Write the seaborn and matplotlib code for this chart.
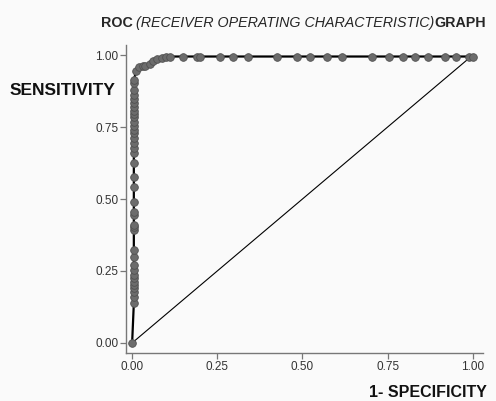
import matplotlib
matplotlib.use("Agg")
import matplotlib.pyplot as plt
import seaborn as sns
import pandas as pd

# ROC points: 1-specificity (fpr) and sensitivity (tpr)
vertical_tpr = [0.138, 0.161, 0.178, 0.190, 0.201, 0.213, 0.225, 0.236, 0.253, 0.271,
                0.300, 0.323, 0.392, 0.402, 0.410, 0.444, 0.456, 0.491, 0.543, 0.577,
                0.624, 0.659, 0.676, 0.693, 0.711, 0.728, 0.740, 0.753, 0.768, 0.784,
                0.795, 0.807, 0.821, 0.832, 0.846, 0.861, 0.878, 0.902, 0.913]
curve_fpr = [0.012, 0.021, 0.031, 0.038, 0.053, 0.062, 0.074, 0.087, 0.100, 0.111]
curve_tpr = [0.945, 0.957, 0.962, 0.963, 0.969, 0.980, 0.986, 0.990, 0.994, 0.995]
flat_fpr = [0.150, 0.190, 0.200, 0.258, 0.296, 0.340, 0.425, 0.484, 0.522, 0.572,
            0.616, 0.704, 0.754, 0.795, 0.830, 0.868, 0.918, 0.950, 0.988, 1.000]
flat_tpr = [0.995] * len(flat_fpr)

fpr = [0.0] + [0.005] * len(vertical_tpr) + curve_fpr + flat_fpr
tpr = [0.0] + vertical_tpr + curve_tpr + flat_tpr

ticks = [0.0, 0.25, 0.5, 0.75, 1.0]
tick_labels = ["0.00", "0.25", "0.50", "0.75", "1.00"]

sns.set_style("white")
plt.rcParams["font.family"] = ["Liberation Sans", "DejaVu Sans"]

fig = plt.figure(figsize=(4.96, 4.01), dpi=100)
bg = "#fafafa"
fig.patch.set_facecolor(bg)
ax = fig.add_axes([126 / 496, 1 - 353 / 401, (483 - 126) / 496, (353 - 45) / 401])
ax.set_facecolor(bg)

df = pd.DataFrame({"fpr": fpr, "tpr": tpr})
# diagonal reference line
sns.lineplot(x=[0, 1], y=[0, 1], ax=ax, color="black", lw=0.8, estimator=None, sort=False)
sns.lineplot(data=df, x="fpr", y="tpr", ax=ax, estimator=None, sort=False,
             color="black", lw=1.6, marker="o", markersize=5.5,
             markerfacecolor="#6c6c6c", markeredgecolor="#505050", markeredgewidth=0.6,
             zorder=3)

ax.set_xlim(-0.018, 1.03)
ax.set_ylim(-0.035, 1.035)
ax.set_xticks(ticks)
ax.set_xticklabels(tick_labels)
ax.set_yticks(ticks)
ax.set_yticklabels(tick_labels)
ax.set_xlabel("")
ax.set_ylabel("")
sns.despine(ax=ax)
for s in ["left", "bottom"]:
    ax.spines[s].set_color("#777777")
    ax.spines[s].set_linewidth(1.0)
ax.tick_params(axis="both", direction="out", length=4, width=0.9, color="#777777",
               labelsize=8.5, labelcolor="#333333", pad=1.5, left=True, bottom=True)

tb = 1 - 27 / 401
fig.text(101 / 496, tb, "ROC", fontsize=10.3, fontweight="bold", ha="left", va="baseline")
fig.text(136 / 496, tb, "(RECEIVER OPERATING CHARACTERISTIC)", fontsize=10.3,
         fontstyle="italic", ha="left", va="baseline")
fig.text(486 / 496, tb, "GRAPH", fontsize=10.3, fontweight="bold", ha="right", va="baseline")
fig.text(10 / 496, 1 - 95 / 401, "SENSITIVITY", fontsize=12.5, fontweight="bold",
         ha="left", va="baseline", color="#111111")
fig.text(487 / 496, 1 - 397 / 401, "1- SPECIFICITY", fontsize=11.5, fontweight="bold",
         ha="right", va="baseline", color="#111111")

fig.savefig("out.png", dpi=100, facecolor=bg)
